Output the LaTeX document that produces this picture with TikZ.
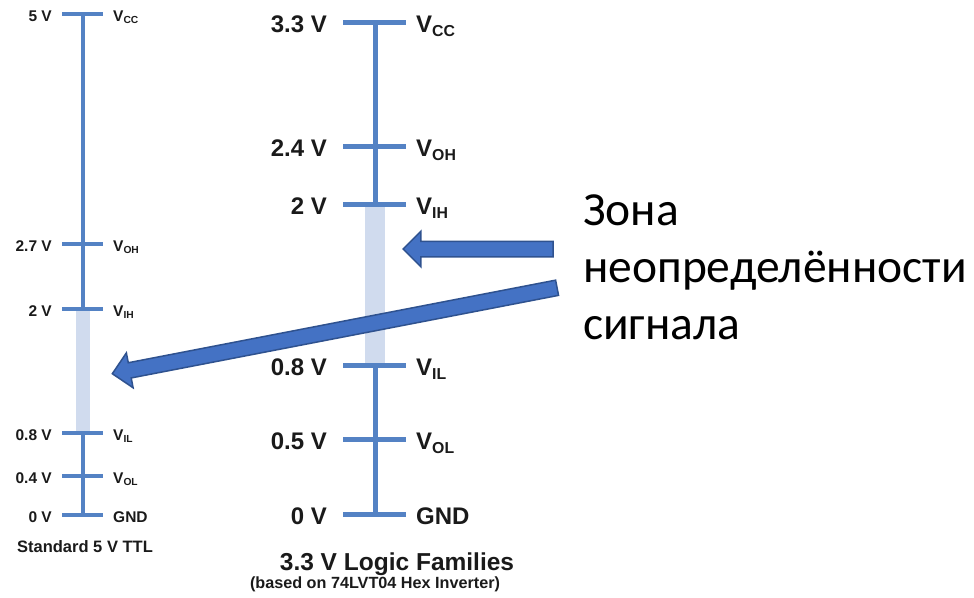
\documentclass[tikz,border=0pt]{standalone}
\usepackage{fontspec}
\usepackage{graphicx}
\setmainfont{Liberation Sans}
\newfontfamily\ruFont{Carlito}
\usepackage{tikz}
\usetikzlibrary{shapes.arrows, positioning}
\definecolor{scaleblue}{RGB}{84,130,196}
\definecolor{zonefill}{RGB}{208,219,238}
\definecolor{arrowfill}{RGB}{68,114,196}
\definecolor{arrowedge}{RGB}{47,82,143}
\definecolor{inkgray}{RGB}{26,26,26}
\newcommand{\vsub}[1]{V\raisebox{-0.19em}{\scalebox{0.66}{#1}}}

\begin{document}
\begin{tikzpicture}[
  x=1pt, y=-1pt,
  rail/.style={draw=scaleblue, line width=#1},
  zone/.style={fill=zonefill},
  voltL/.style={anchor=base east, inner sep=0pt, yshift=-7pt, text=inkgray, font=\fontsize{15.5}{18}\selectfont\bfseries},
  nameL/.style={anchor=base west, inner sep=0pt, yshift=-7pt, text=inkgray, font=\fontsize{15.5}{18}\selectfont\bfseries},
  voltR/.style={anchor=base east, inner sep=0pt, yshift=-10pt, text=inkgray, font=\fontsize{24}{28}\selectfont\bfseries},
  nameR/.style={anchor=base west, inner sep=0pt, yshift=-10pt, text=inkgray, font=\fontsize{24}{28}\selectfont\bfseries},
  caption/.style={anchor=base, inner sep=0pt, text=inkgray, font=\fontsize{#1}{#1}\selectfont\bfseries},
  blockarrow/.style={single arrow, draw=arrowedge, fill=arrowfill, line width=1.5pt, inner xsep=0pt, inner ysep=7pt, single arrow head extend=10pt}
]
\useasboundingbox (0,0) rectangle (974,597);

% Standard 5 V TTL levels
\fill[zone] (76,309) rectangle (90,433);
\draw[rail=4pt] (83,14) -- (83,309);
\draw[rail=4pt] (83,433) -- (83,515);
\foreach \y/\volt/\lab [count=\k] in {14/5 V/\vsub{CC}, 244/2.7 V/\vsub{OH}, 309/2 V/\vsub{IH}, 433/0.8 V/\vsub{IL}, 476/0.4 V/\vsub{OL}, 515/0 V/GND} {
  \draw[rail=4pt] (62,\y) -- (103,\y);
  \node[voltL] (lv\k) at (52,\y) {\volt};
  \node[nameL] (ln\k) at (113,\y) {\lab};
}
\node[caption=16.5] (ttlTitle) at (85,552) {Standard 5 V TTL};

% 3.3 V logic levels
\fill[zone] (365,204) rectangle (385,365);
\draw[rail=5pt] (375,22) -- (375,204);
\draw[rail=5pt] (375,365) -- (375,514);
\foreach \y/\volt/\lab [count=\k] in {22/3.3 V/\vsub{CC}, 146/2.4 V/\vsub{OH}, 204/2 V/\vsub{IH}, 365/0.8 V/\vsub{IL}, 439/0.5 V/\vsub{OL}, 514/0 V/GND} {
  \draw[rail=5pt] (343,\y) -- (406,\y);
  \node[voltR] (rv\k) at (327,\y) {\volt};
  \node[nameR] (rn\k) at (416,\y) {\lab};
}
\node[caption=24.5] (lvTitle) at (397,570) {3.3 V Logic Families};
\node[caption=16.2] (lvNote) at (375,588) {(based on 74LVT04 Hex Inverter)};

% Undefined zone label and pointers
\node[anchor=base west, align=left, inner sep=0pt, text=black, font=\ruFont\fontsize{47.5}{57}\selectfont] (zoneText) at (583,339) {Зона\\неопределённости\\сигнала};
\coordinate (tailA) at (557,249);
\coordinate (tipA) at (407,249);
\coordinate (tailB) at (561,287);
\coordinate (tipB) at (116,373);
\path (tailA) -- (tipA) node[midway, blockarrow, sloped, allow upside down, minimum height=150pt] (arrowA) {};
\path (tailB) -- (tipB) node[midway, blockarrow, sloped, allow upside down, minimum height=453pt] (arrowB) {};

\end{tikzpicture}
\end{document}
